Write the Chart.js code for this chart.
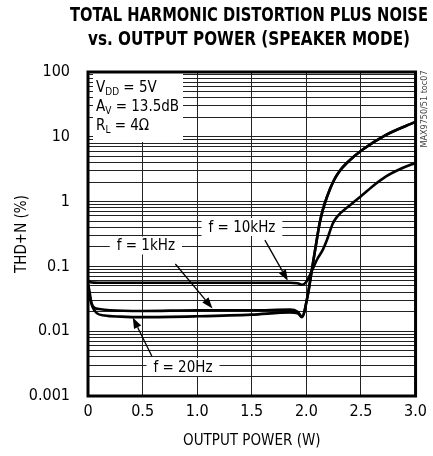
<!DOCTYPE html>
<html>
<head>
<meta charset="utf-8">
<script src="https://cdn.jsdelivr.net/npm/chart.js@4.4.1/dist/chart.umd.min.js"></script>
<style>
  html, body { margin: 0; padding: 0; background: #fff; }
  #wrap { width: 433px; height: 456px; }
</style>
</head>
<body>
<div id="wrap"><canvas id="myChart" width="433" height="456"></canvas></div>
<script>
// values
var power10k = [0, 0.02, 0.1, 0.5, 1.0, 1.5, 1.85, 1.92, 1.96, 2.0, 2.05, 2.1, 2.15, 2.19, 2.24, 2.28, 2.4, 2.51, 2.63, 2.73, 2.88, 3.0];
var thd10k   = [0.062, 0.057, 0.056, 0.056, 0.056, 0.056, 0.056, 0.055, 0.052, 0.058, 0.085, 0.13, 0.18, 0.26, 0.45, 0.58, 0.88, 1.25, 1.85, 2.45, 3.3, 3.95];

var power1k = [0, 0.015, 0.03, 0.06, 0.1, 0.2, 0.5, 1.0, 1.5, 1.85, 1.92, 1.96, 2.01, 2.05, 2.095, 2.12, 2.15, 2.19, 2.25, 2.3, 2.37, 2.51, 2.73, 3.0];
var thd1k   = [0.055, 0.04, 0.028, 0.023, 0.022, 0.021, 0.0205, 0.021, 0.021, 0.0215, 0.02, 0.0168, 0.034, 0.088, 0.255, 0.45, 0.74, 1.2, 2.1, 2.9, 3.94, 6.25, 10.7, 17];

var power20 = [0, 0.015, 0.04, 0.08, 0.15, 0.3, 0.5, 1.0, 1.5, 1.85, 1.92, 1.96, 2.01, 2.05, 2.095, 2.12, 2.15, 2.19, 2.25, 2.3, 2.37, 2.51, 2.73, 3.0];
var thd20   = [0.05, 0.035, 0.024, 0.019, 0.0175, 0.0168, 0.0165, 0.017, 0.018, 0.0195, 0.019, 0.0165, 0.034, 0.088, 0.255, 0.45, 0.74, 1.2, 2.1, 2.9, 3.94, 6.25, 10.7, 17];

var seriesNames = ['f = 10kHz', 'f = 1kHz', 'f = 20Hz'];
var xTickLabels = ['0', '0.5', '1.0', '1.5', '2.0', '2.5', '3.0'];
var yTickLabels = ['0.001', '0.01', '0.1', '1', '10', '100'];
var titleLines = ['TOTAL HARMONIC DISTORTION PLUS NOISE', 'vs. OUTPUT POWER (SPEAKER MODE)'];

var FONT = "'Liberation Sans Narrow', 'DejaVu Sans Condensed', 'Liberation Sans', sans-serif";

function toPoints(xs, ys) {
    var pts = [];
    for (i = 0; i < xs.length; i++) {
        pts.push({x: xs[i], y: ys[i]});
    }
    return pts;
}

function isDecade(v) {
    var l = Math.log10(v);
    return Math.abs(l - Math.round(l)) < 1e-9;
}

function arrow(ctx, x1, y1, x2, y2) {
    var a = Math.atan2(y2 - y1, x2 - x1);
    var len = 11, w = 4;
    ctx.beginPath();
    ctx.moveTo(x1, y1);
    ctx.lineTo(x2 - Math.cos(a) * len, y2 - Math.sin(a) * len);
    ctx.lineWidth = 1.3;
    ctx.strokeStyle = '#000';
    ctx.stroke();
    ctx.beginPath();
    ctx.moveTo(x2, y2);
    ctx.lineTo(x2 - Math.cos(a) * len - Math.sin(a) * w, y2 - Math.sin(a) * len + Math.cos(a) * w);
    ctx.lineTo(x2 - Math.cos(a) * len + Math.sin(a) * w, y2 - Math.sin(a) * len - Math.cos(a) * w);
    ctx.closePath();
    ctx.fillStyle = '#000';
    ctx.fill();
}

// text with a subscript part, e.g. V + DD + " = 5V"
function subText(ctx, x, y, main, sub, rest) {
    ctx.font = '15px ' + FONT;
    ctx.fillText(main, x, y);
    x += ctx.measureText(main).width;
    ctx.font = '10px ' + FONT;
    ctx.fillText(sub, x, y + 4);
    x += ctx.measureText(sub).width;
    ctx.font = '15px ' + FONT;
    ctx.fillText(rest, x, y);
}

function labelBox(ctx, text, cx, cy) {
    ctx.font = '15px ' + FONT;
    var w = ctx.measureText(text).width;
    ctx.fillStyle = '#fff';
    ctx.fillRect(cx - w / 2 - 7, cy - 9, w + 14, 18);
    ctx.fillStyle = '#000';
    ctx.textAlign = 'center';
    ctx.textBaseline = 'middle';
    ctx.fillText(text, cx, cy + 1);
}

const decorations = {
    id: 'decorations',
    beforeDraw: (chart) => {
        const ctx = chart.ctx;
        ctx.save();
        ctx.fillStyle = '#fff';
        ctx.fillRect(0, 0, chart.width, chart.height);
        ctx.restore();
    },
    afterDatasetsDraw: (chart) => {
        const ctx = chart.ctx;
        const xs = chart.scales.x, ys = chart.scales.y;
        const a = chart.chartArea;
        ctx.save();

        // conditions box
        ctx.fillStyle = '#fff';
        ctx.fillRect(a.left + 5, a.top + 1, 90, 69);
        ctx.fillStyle = '#000';
        ctx.textAlign = 'left';
        ctx.textBaseline = 'middle';
        subText(ctx, a.left + 8, a.top + 16, 'V', 'DD', ' = 5V');
        subText(ctx, a.left + 8, a.top + 35, 'A', 'V', ' = 13.5dB');
        subText(ctx, a.left + 8, a.top + 54, 'R', 'L', ' = 4\u03A9');

        // curve labels, positioned in data units
        labelBox(ctx, seriesNames[0], xs.getPixelForValue(1.41), ys.getPixelForValue(0.405));
        arrow(ctx, xs.getPixelForValue(1.62), ys.getPixelForValue(0.255),
                   xs.getPixelForValue(1.83), ys.getPixelForValue(0.06));
        labelBox(ctx, seriesNames[1], xs.getPixelForValue(0.53), ys.getPixelForValue(0.21));
        arrow(ctx, xs.getPixelForValue(0.80), ys.getPixelForValue(0.109),
                   xs.getPixelForValue(1.14), ys.getPixelForValue(0.0225));
        labelBox(ctx, seriesNames[2], xs.getPixelForValue(0.87), ys.getPixelForValue(0.0028));
        arrow(ctx, xs.getPixelForValue(0.585), ys.getPixelForValue(0.0041),
                   xs.getPixelForValue(0.41), ys.getPixelForValue(0.0163));

        // frame
        ctx.lineWidth = 3;
        ctx.strokeStyle = '#000';
        ctx.strokeRect(a.left, a.top, a.right - a.left, a.bottom - a.top);
        ctx.restore();
    },
    afterDraw: (chart) => {
        const ctx = chart.ctx;
        const a = chart.chartArea;
        ctx.save();
        // title, squeezed to the width of the original condensed face
        ctx.fillStyle = '#000';
        ctx.textAlign = 'center';
        ctx.textBaseline = 'middle';
        ctx.font = 'bold 20px ' + FONT;
        var targets = [358, 322];
        var ty = [16, 40];
        for (i = 0; i < titleLines.length; i++) {
            var w = ctx.measureText(titleLines[i]).width;
            ctx.save();
            ctx.translate(249, ty[i]);
            ctx.scale(targets[i] / w, 1);
            ctx.fillText(titleLines[i], 0, 0);
            ctx.restore();
        }
        // figure id on the right
        ctx.translate(a.right + 9, a.top + 37);
        ctx.rotate(-Math.PI / 2);
        ctx.font = '9px ' + FONT;
        ctx.fillStyle = '#444';
        ctx.fillText('MAX9750/51 toc07', 0, 0);
        ctx.restore();
    }
};

function create_chart() {
    var colors = ['#000', '#000', '#000'];
    var xsArr = [power10k, power1k, power20];
    var ysArr = [thd10k, thd1k, thd20];
    var data_set = [];
    for (s = 0; s < 3; s++) {
        data_set.push({
            label: seriesNames[s],
            data: toPoints(xsArr[s], ysArr[s]),
            borderColor: colors[s],
            backgroundColor: colors[s],
            borderWidth: 2.6,
            pointRadius: 0,
            cubicInterpolationMode: 'monotone',
            fill: false
        });
    }

    var ctx = document.getElementById('myChart').getContext('2d');
    new Chart(ctx, {
        type: 'line',
        data: { datasets: data_set },
        options: {
            responsive: false,
            animation: false,
            layout: { padding: { top: 72, right: 17, left: 0, bottom: 0 } },
            plugins: { legend: { display: false }, tooltip: { enabled: false } },
            scales: {
                x: {
                    type: 'linear', min: 0, max: 3,
                    afterFit: (scale) => { scale.height = 60; },
                    afterBuildTicks: (scale) => {
                        scale.ticks = xTickLabels.map(function (t) { return {value: parseFloat(t)}; });
                    },
                    ticks: {
                        autoSkip: false, maxRotation: 0, padding: 6,
                        color: '#000', font: { family: FONT, size: 16 },
                        callback: (v, idx) => xTickLabels[idx]
                    },
                    grid: { color: '#222', lineWidth: 1, drawTicks: false },
                    border: { display: false },
                    title: {
                        display: true, text: 'OUTPUT POWER (W)', color: '#000',
                        font: { family: FONT, size: 15 }, padding: { top: 0, bottom: 6 }
                    }
                },
                y: {
                    type: 'logarithmic', min: 0.001, max: 100,
                    afterFit: (scale) => { scale.width = 88; },
                    afterBuildTicks: (scale) => {
                        var t = [];
                        for (e = -3; e <= 2; e++) {
                            for (m = 1; m <= 9; m++) {
                                var v = Number((m * Math.pow(10, e)).toPrecision(3));
                                if (v <= 100) t.push({value: v});
                            }
                        }
                        scale.ticks = t;
                    },
                    ticks: {
                        autoSkip: false, padding: 18,
                        color: '#000', font: { family: FONT, size: 16 },
                        callback: (v) => isDecade(v) ? yTickLabels[Math.round(Math.log10(v)) + 3] : ''
                    },
                    grid: { color: '#222', lineWidth: 1, drawTicks: false },
                    border: { display: false },
                    title: {
                        display: true, text: 'THD+N (%)', color: '#000',
                        font: { family: FONT, size: 15 }, padding: { top: 13, bottom: 0 }
                    }
                }
            }
        },
        plugins: [decorations]
    });
}

create_chart();
</script>
</body>
</html>
